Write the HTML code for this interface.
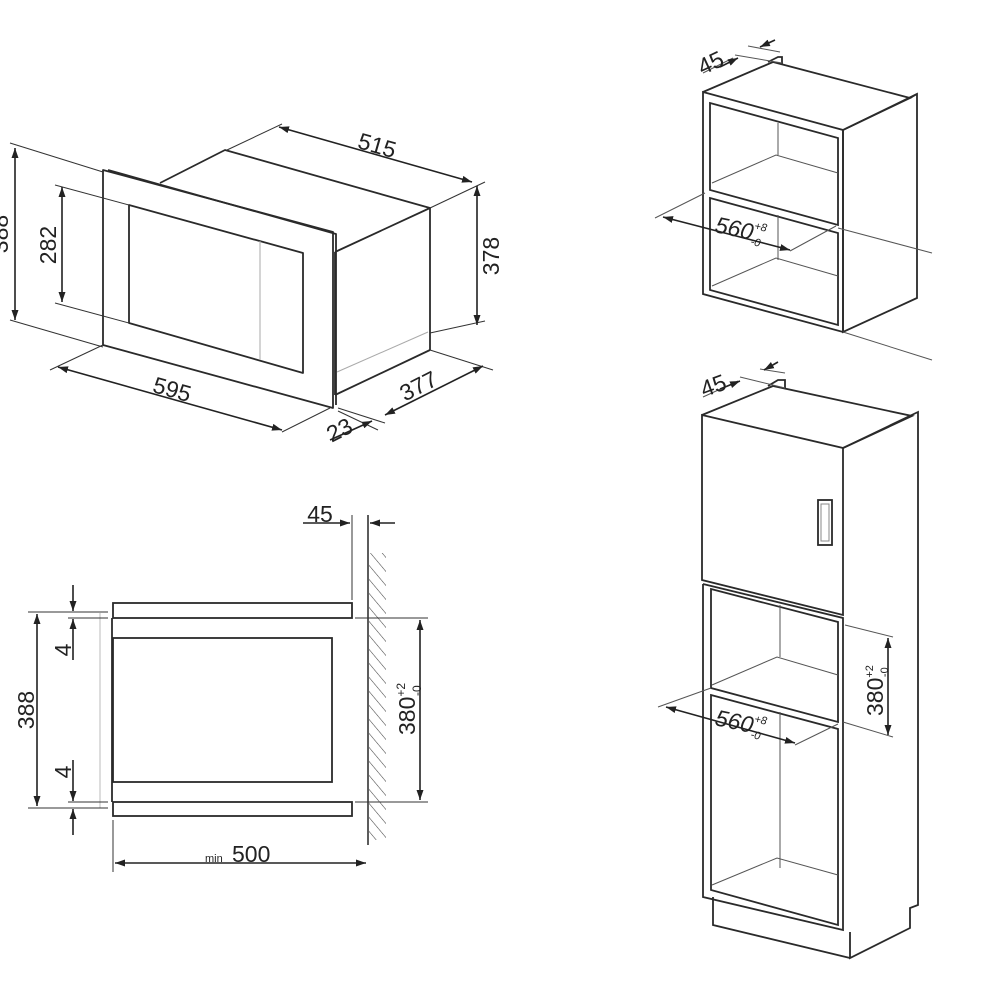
<!DOCTYPE html>
<html><head><meta charset="utf-8"><style>
html,body{margin:0;padding:0;background:#fff;}
svg{display:block;}
text{font-family:"Liberation Sans",sans-serif;fill:#222;}
</style></head><body>
<svg width="1000" height="1000" viewBox="0 0 1000 1000" xmlns="http://www.w3.org/2000/svg">
<defs>
<marker id="a" viewBox="0 0 10 10" refX="10" refY="5" markerWidth="10" markerHeight="10" markerUnits="userSpaceOnUse" orient="auto-start-reverse">
<path d="M0,1.5 L10,5 L0,8.5 Z" fill="#222"/></marker>
<pattern id="h" width="9" height="9" patternUnits="userSpaceOnUse" patternTransform="rotate(-40)">
<line x1="0" y1="0" x2="0" y2="9" stroke="#444" stroke-width="1.1"/></pattern>
</defs>
<g fill="none" stroke="#2a2a2a" stroke-width="1.8" stroke-linejoin="round">
<polyline points="160,183 225,150 430,208 335,252"/>
<line x1="335" y1="252" x2="335" y2="395"/>
<line x1="430" y1="208" x2="430" y2="350"/>
<line x1="335" y1="395" x2="430" y2="350"/>
<line x1="337" y1="372" x2="428" y2="332" stroke="#aaa" stroke-width="1"/>
<polygon points="103,170 333,232 333,408 103,345" fill="#fff"/>
<polyline points="108,170 336,234 336,405" />
<polygon points="129,205 303,253 303,373 129,323"/>
<line x1="260" y1="241" x2="260" y2="360" stroke="#aaa" stroke-width="1"/>
</g>
<g fill="none" stroke="#333" stroke-width="1">
<line x1="227" y1="150" x2="282" y2="124"/>
<line x1="430" y1="208" x2="485" y2="182"/>
<line x1="430" y1="333" x2="485" y2="321"/>
<line x1="430" y1="350" x2="493" y2="370"/>
<line x1="338" y1="408" x2="385" y2="423"/>
<line x1="338" y1="411" x2="378" y2="430"/>
<line x1="103" y1="345" x2="50" y2="370"/>
<line x1="330" y1="408" x2="282" y2="432"/>
<line x1="10" y1="143" x2="103" y2="172"/>
<line x1="10" y1="320" x2="103" y2="347"/>
<line x1="55" y1="185" x2="129" y2="205"/>
<line x1="55" y1="303" x2="129" y2="323"/>
</g>
<g fill="none" stroke="#222" stroke-width="1.6">
<line x1="279" y1="127" x2="472" y2="182" marker-start="url(#a)" marker-end="url(#a)"/>
<line x1="477" y1="186" x2="477" y2="325" marker-start="url(#a)" marker-end="url(#a)"/>
<line x1="385" y1="415" x2="483" y2="366" marker-start="url(#a)" marker-end="url(#a)"/>
<line x1="330" y1="440" x2="372" y2="421" marker-end="url(#a)"/>
<line x1="58" y1="367" x2="282" y2="430" marker-start="url(#a)" marker-end="url(#a)"/>
<line x1="15" y1="148" x2="15" y2="320" marker-start="url(#a)" marker-end="url(#a)"/>
<line x1="62" y1="187" x2="62" y2="302" marker-start="url(#a)" marker-end="url(#a)"/>
</g>
<text x="375" y="153" font-size="23" text-anchor="middle" transform="rotate(16 375 153)">515</text>
<text x="499" y="256" font-size="23" text-anchor="middle" transform="rotate(-90 499 256)">378</text>
<text x="422" y="393" font-size="23" text-anchor="middle" transform="rotate(-27 422 393)">377</text>
<text x="343" y="437" font-size="23" text-anchor="middle" transform="rotate(-27 343 437)">23</text>
<text x="170" y="397" font-size="23" text-anchor="middle" transform="rotate(16 170 397)">595</text>
<text x="8" y="234" font-size="23" text-anchor="middle" transform="rotate(-90 8 234)">388</text>
<text x="56" y="245" font-size="23" text-anchor="middle" transform="rotate(-90 56 245)">282</text>

<g fill="none" stroke="#2a2a2a" stroke-width="1.8">
<rect x="113" y="603" width="239" height="15"/>
<rect x="113" y="802" width="239" height="14"/>
<rect x="113" y="638" width="219" height="144"/>
<line x1="112" y1="618" x2="112" y2="802"/>
</g>
<rect x="369" y="553" width="17" height="287" fill="url(#h)"/>
<g fill="none" stroke="#333" stroke-width="1">
<line x1="100" y1="613" x2="100" y2="808" stroke="#bbb"/>
<line x1="368" y1="515" x2="368" y2="845" stroke-width="1.6"/>
<line x1="352" y1="515" x2="352" y2="600"/>
<line x1="28" y1="612" x2="108" y2="612"/>
<line x1="68" y1="618" x2="108" y2="618"/>
<line x1="68" y1="802" x2="108" y2="802"/>
<line x1="28" y1="808" x2="108" y2="808"/>
<line x1="355" y1="618" x2="428" y2="618"/>
<line x1="355" y1="802" x2="428" y2="802"/>
<line x1="113" y1="820" x2="113" y2="872"/>
</g>
<g fill="none" stroke="#222" stroke-width="1.6">
<line x1="303" y1="523" x2="350" y2="523" marker-end="url(#a)"/>
<line x1="395" y1="523" x2="370" y2="523" marker-end="url(#a)"/>
<line x1="420" y1="620" x2="420" y2="800" marker-start="url(#a)" marker-end="url(#a)"/>
<line x1="37" y1="614" x2="37" y2="806" marker-start="url(#a)" marker-end="url(#a)"/>
<line x1="73" y1="585" x2="73" y2="611" marker-end="url(#a)"/>
<line x1="73" y1="660" x2="73" y2="619" marker-end="url(#a)"/>
<line x1="73" y1="760" x2="73" y2="801" marker-end="url(#a)"/>
<line x1="73" y1="835" x2="73" y2="809" marker-end="url(#a)"/>
<line x1="115" y1="863" x2="366" y2="863" marker-start="url(#a)" marker-end="url(#a)"/>
</g>
<text x="320" y="522" font-size="23" text-anchor="middle">45</text>
<text x="34" y="710" font-size="23" text-anchor="middle" transform="rotate(-90 34 710)">388</text>
<text x="71" y="650" font-size="23" text-anchor="middle" transform="rotate(-90 71 650)">4</text>
<text x="71" y="772" font-size="23" text-anchor="middle" transform="rotate(-90 71 772)">4</text>
<text x="415" y="735" font-size="23" transform="rotate(-90 415 735)">380<tspan font-size="12" dy="-10">+2</tspan><tspan font-size="12" dx="-13" dy="16">-0</tspan></text>
<text x="205" y="862" font-size="11">min</text>
<text x="232" y="862" font-size="23">500</text>

<g fill="none" stroke="#2a2a2a" stroke-width="1.8">
<polyline points="703,92 773,62 910,98 843,130"/>
<polygon points="843,130 917,94 917,298 843,332"/>
<line x1="910" y1="98" x2="917" y2="94"/>
<polygon points="703,92 843,130 843,332 703,294"/>
<polygon points="710,103 838,138 838,225 710,190"/>
<polygon points="710,198 838,233 838,325 710,290"/>
<polyline points="768,62 778,57 782,57 782,64"/>
</g>
<g fill="none" stroke="#555" stroke-width="1">
<line x1="778" y1="123" x2="778" y2="155"/>
<polyline points="712,183 776,155 838,173"/>
<line x1="778" y1="215" x2="778" y2="260"/>
<polyline points="712,286 776,258 838,276"/>
<line x1="655" y1="218" x2="705" y2="193"/>
<line x1="790" y1="251" x2="836" y2="226"/>
<line x1="838" y1="228" x2="932" y2="253"/>
<line x1="843" y1="332" x2="932" y2="360"/>
<line x1="735" y1="55" x2="782" y2="63"/>
<line x1="748" y1="46" x2="780" y2="52"/>
<line x1="703" y1="73" x2="733" y2="58"/>
</g>
<g fill="none" stroke="#222" stroke-width="1.6">
<line x1="663" y1="217" x2="790" y2="250" marker-start="url(#a)" marker-end="url(#a)"/>
<line x1="720" y1="67" x2="738" y2="58" marker-end="url(#a)"/>
<line x1="775" y1="40" x2="760" y2="47" marker-end="url(#a)"/>
</g>
<text x="714" y="70" font-size="23" text-anchor="middle" transform="rotate(-25 714 70)">45</text>
<text x="714" y="232" font-size="23" font-style="italic" transform="rotate(12 714 232)">560<tspan font-size="11" dy="-11">+8</tspan><tspan font-size="11" dx="-13" dy="16">-0</tspan></text>

<g fill="none" stroke="#2a2a2a" stroke-width="1.8">
<polyline points="702,415 773,386 912,416 843,448"/>
<polyline points="843,448 918,412 918,905 910,908 910,928 850,958 850,932"/>
<polygon points="702,415 843,448 843,615 702,580"/>
<polyline points="703,584 843,618 843,930 703,897 703,584"/>
<polygon points="711,589 838,622 838,722 711,688"/>
<polygon points="711,695 838,729 838,925 711,890"/>
<polyline points="713,897 713,925 850,958"/>
<rect x="818" y="500" width="14" height="45"/>
<polyline points="768,386 778,380 785,380 785,388"/>
</g>
<rect x="821" y="504" width="8" height="37" fill="none" stroke="#888" stroke-width="1"/>
<g fill="none" stroke="#555" stroke-width="1">
<line x1="780" y1="605" x2="780" y2="657"/>
<polyline points="712,685 777,657 838,675"/>
<line x1="780" y1="712" x2="780" y2="868"/>
<polyline points="712,885 777,858 838,875"/>
<line x1="845" y1="625" x2="893" y2="637"/>
<line x1="843" y1="722" x2="893" y2="737"/>
<line x1="658" y1="707" x2="711" y2="688"/>
<line x1="795" y1="745" x2="838" y2="724"/>
<line x1="740" y1="377" x2="785" y2="388"/>
<line x1="760" y1="369" x2="785" y2="373"/>
<line x1="703" y1="397" x2="738" y2="381"/>
</g>
<g fill="none" stroke="#222" stroke-width="1.6">
<line x1="888" y1="638" x2="888" y2="735" marker-start="url(#a)" marker-end="url(#a)"/>
<line x1="666" y1="707" x2="795" y2="743" marker-start="url(#a)" marker-end="url(#a)"/>
<line x1="720" y1="389" x2="740" y2="381" marker-end="url(#a)"/>
<line x1="778" y1="362" x2="764" y2="370" marker-end="url(#a)"/>
</g>
<text x="716" y="393" font-size="23" text-anchor="middle" transform="rotate(-20 716 393)">45</text>
<text x="714" y="725" font-size="23" font-style="italic" transform="rotate(12 714 725)">560<tspan font-size="11" dy="-11">+8</tspan><tspan font-size="11" dx="-13" dy="16">-0</tspan></text>
<text x="883" y="716" font-size="23" transform="rotate(-90 883 716)">380<tspan font-size="11" dy="-10">+2</tspan><tspan font-size="11" dx="-12" dy="15">-0</tspan></text>
</svg>
</body></html>
